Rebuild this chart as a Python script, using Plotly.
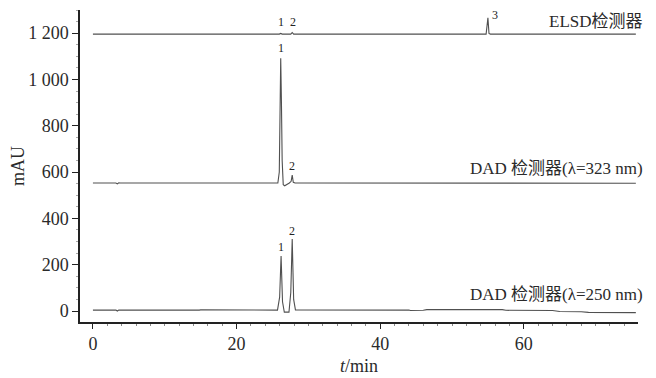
import plotly.graph_objects as go

# ---- data ----
t_elsd = [0, 8.5, 8.7, 9.5, 10.5, 11, 25.95, 26.15, 26.35, 27.55, 27.75, 27.95, 54.75, 55.0, 55.15, 55.35, 75.6]
y_elsd = [1196, 1196, 1197, 1195.5, 1197, 1196, 1196, 1199, 1196, 1196, 1203, 1196, 1196, 1266, 1199, 1196, 1196]

t_323 = [0, 3.2, 3.4, 3.6, 3.8, 19, 25.75, 25.95, 26.05, 26.15, 26.25, 26.35, 26.5, 26.7, 27.35, 27.6, 27.75, 27.9, 28.15, 35.5, 36, 43.5, 44, 75.6]
y_323 = [553, 553, 549, 554, 553, 553, 553, 600, 780, 1092, 900, 650, 545, 541, 553, 560, 587, 556, 553, 553, 551, 551, 553, 552]

t_250 = [0, 3.2, 3.4, 3.6, 14.8, 15, 25.7, 26.0, 26.2, 26.4, 26.65, 27.3, 27.55, 27.75, 27.95, 28.2, 44, 44.2, 46, 46.5, 57, 57.5, 64, 65, 68, 69, 75.6]
y_250 = [4, 4, 0, 4, 4, 5, 4, 60, 237, 40, -5, -5, 80, 311, 50, 5, 4, 2, 3, 6, 6, 3, 2, -2, -3, -6, -7]

peak_t = [26.2, 27.75]
elsd_peak_labels = ["1", "2", "3"]
elsd_peak_t = [26.2, 27.8, 56.0]
elsd_peak_y = [1250, 1250, 1277]
dad323_label_y = [1138, 625]
dad250_label_y = [278, 347]

detector_labels = ["ELSD检测器", "DAD 检测器(λ=323 nm)", "DAD 检测器(λ=250 nm)"]
detector_label_y = [1249, 614, 70]

y_tickvals = [0, 200, 400, 600, 800, 1000, 1200]
y_ticktext = ["0", "200", "400", "600", "800", "1 000", "1 200"]
x_tickvals = [0, 20, 40, 60]

LINE = "#505050"
TXT = "#2a2a2a"
FONT = "Liberation Serif, Noto Sans CJK SC, serif"

fig = go.Figure()
for t, y in [(t_elsd, y_elsd), (t_323, y_323), (t_250, y_250)]:
    fig.add_trace(go.Scatter(x=t, y=y, mode="lines",
                             line=dict(color=LINE, width=1.1), showlegend=False,
                             hoverinfo="skip"))

ann = []
for lab, tx, ty in zip(elsd_peak_labels, elsd_peak_t, elsd_peak_y):
    ann.append(dict(x=tx, y=ty, text=lab, showarrow=False, font=dict(size=12, color="#222", family=FONT)))
for i, ty in enumerate(dad323_label_y):
    ann.append(dict(x=peak_t[i], y=ty, text=str(i + 1), showarrow=False, font=dict(size=12, color="#222", family=FONT)))
for i, ty in enumerate(dad250_label_y):
    ann.append(dict(x=peak_t[i], y=ty, text=str(i + 1), showarrow=False, font=dict(size=12, color="#222", family=FONT)))
for lab, ty in zip(detector_labels, detector_label_y):
    ann.append(dict(x=1.013, xref="paper", xanchor="right", y=ty, text=lab, showarrow=False,
                    font=dict(size=17, color=TXT, family=FONT)))

# the page body adds an 8 px offset; size the figure so the plot lands where the reference has it
fig.update_layout(
    width=648, height=370,
    margin=dict(l=72, r=18, t=2, b=56),
    paper_bgcolor="white", plot_bgcolor="white",
    font=dict(family=FONT, color=TXT, size=18),
    annotations=ann,
    xaxis=dict(range=[-1.8, 75.9], tickvals=x_tickvals, showgrid=False, zeroline=False,
               automargin=False,
               showline=True, linecolor="#222", linewidth=1.5, ticks="outside", ticklen=5,
               tickcolor="#222", tickfont=dict(size=18, family=FONT, color=TXT),
               minor=dict(dtick=2, ticks="outside", ticklen=2, tickcolor="#888", showgrid=False),
               title=dict(text="<i>t</i>/min", font=dict(size=18, family=FONT, color=TXT), standoff=6)),
    yaxis=dict(range=[-47.5, 1300], tickvals=y_tickvals, ticktext=y_ticktext, showgrid=False,
               automargin=False,
               zeroline=False, showline=True, linecolor="#222", linewidth=1.5, ticks="outside",
               ticklen=6, tickcolor="#222", tickfont=dict(size=18, family=FONT, color=TXT),
               minor=dict(dtick=50, ticks="outside", ticklen=2, tickcolor="#aaa", showgrid=False),
               title=dict(text="mAU", font=dict(size=18, family=FONT, color=TXT), standoff=8)),
)

fig.write_html("out.html")
